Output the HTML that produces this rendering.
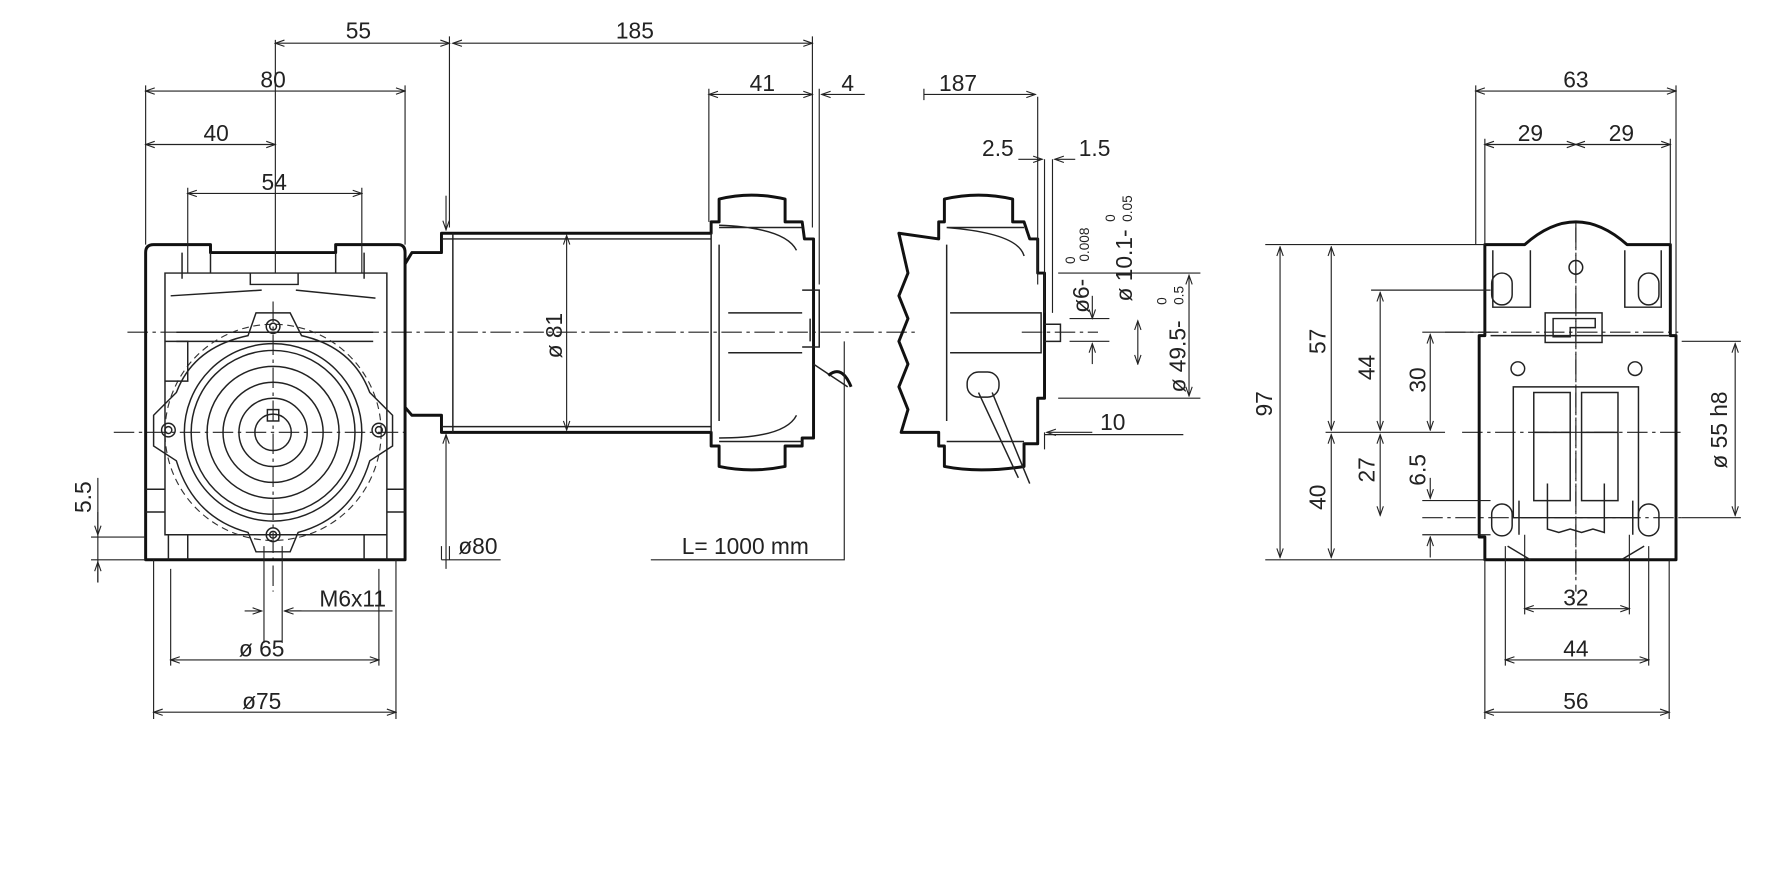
<!DOCTYPE html>
<html><head><meta charset="utf-8"><style>
html,body{margin:0;padding:0;background:#fff;}
svg{display:block;}
text{font-family:"Liberation Sans",sans-serif;font-size:20px;fill:#222;}
.t{stroke:#222;stroke-width:1;fill:none;}
.o{stroke:#111;stroke-width:2.6;fill:none;stroke-linejoin:round;}
.m{stroke:#222;stroke-width:1.3;fill:none;}
.c{stroke:#222;stroke-width:1;fill:none;stroke-dasharray:18 4 3 4;}
.d{stroke:#333;stroke-width:1;fill:none;stroke-dasharray:6 4;}
</style></head><body>
<svg width="1775" height="892" viewBox="0 0 1560 784" preserveAspectRatio="none" xmlns="http://www.w3.org/2000/svg">
<defs>
<marker id="a" viewBox="0 0 10 10" refX="10" refY="5" markerWidth="10" markerHeight="8" orient="auto-start-reverse" markerUnits="userSpaceOnUse"><path d="M0,1.5 L10,5 L0,8.5" fill="none" stroke="#222" stroke-width="1.2"/></marker>
</defs>
<rect width="1560" height="784" fill="#fff"/>

<!-- centerlines -->
<path class="c" d="M112,292 H805 M898,292 H965 M100,380 H360 M240,265 V520 M1385,200 V505 M1270,292 H1475 M1285,380 H1480 M1250,455 H1300 M1250,455 H1480"/>
<path class="c" d="M1385,195 V520"/>

<!-- LEFT VIEW gearbox -->
<path class="o" d="M128,222 Q128,215 135,215 H185 V222 H295 V215 H350 Q356,215 356,222 V492 H128 Z"/>
<path class="m" d="M145,240 H340 V470 H145 Z M155,292 H328 M155,300 H328 M128,430 H145 M340,430 H356 M128,450 H145 M340,450 H356 M160,222 V245 M185,222 V240 M295,222 V240 M320,222 V245 M148,470 V492 M165,470 V492 M320,470 V492 M340,470 V492"/>
<path class="m" d="M220,240 V250 H262 V240 M150,260 L230,255 M260,255 L330,262"/>
<path class="m" d="M225,275 L255,275 L265,295 Q310,305 325,345 L345,365 V392 L325,405 Q310,455 262,468 L255,485 H225 L218,468 Q170,455 155,405 L135,392 V365 L155,345 Q170,305 218,295 Z"/>
<circle class="d" cx="240" cy="380" r="95"/>
<circle class="m" cx="240" cy="380" r="78"/>
<circle class="m" cx="240" cy="380" r="72"/>
<circle class="m" cx="240" cy="380" r="58"/>
<circle class="m" cx="240" cy="380" r="44"/>
<circle class="m" cx="240" cy="380" r="30"/>
<circle class="m" cx="240" cy="380" r="16"/>
<rect class="m" x="235" y="360" width="10" height="10"/>
<circle class="m" cx="240" cy="287" r="6"/><circle class="m" cx="240" cy="287" r="3"/>
<circle class="m" cx="148" cy="378" r="6"/><circle class="m" cx="148" cy="378" r="3"/>
<circle class="m" cx="333" cy="378" r="6"/><circle class="m" cx="333" cy="378" r="3"/>
<circle class="m" cx="240" cy="470" r="6"/><circle class="m" cx="240" cy="470" r="3"/>
<path class="m" d="M145,300 H165 V335 H145"/>

<!-- MOTOR -->
<path class="o" d="M356,232 L362,222 H388 V205 H625 V195 H632 V175 Q660,168 690,175 V195 H705 L707,210 H715 V385 H705 V392 H690 V410 Q660,416 632,410 V392 H625 V380 H388 V365 H362 L356,358"/>
<path class="m" d="M398,205 V380 M388,210 H625 M388,375 H625 M625,205 V380 M632,215 V370 M632,200 H705 M632,388 H705 M640,275 H705 M640,310 H705 M632,198 Q690,200 700,220 M632,385 Q690,385 700,365 M705,255 H720 V305 H705 M712,280 V300 M715,320 L730,330 L745,340"/>
<path class="o" d="M728,330 Q740,320 748,340" />

<!-- MIDDLE partial view -->
<path class="o" d="M790,205 L825,210 V195 H830 V175 Q860,168 890,175 V195 H900 L905,210 H912 V240 H918 V350 H912 V390 L900,390 V410 Q860,416 830,410 V392 H825 V380 L792,380 L798,360 L790,340 L798,320 L790,300 L798,280 L790,260 L798,240 Z"/>
<path class="m" d="M832,215 V370 M832,200 H900 M832,388 H900 M832,200 Q895,205 900,225 M835,275 H905 M835,310 H905 M905,275 H915 V310 H905 M918,285 H932 V300 H918"/>
<rect class="m" x="850" y="327" width="28" height="22" rx="10"/>
<path class="m" d="M860,345 L895,420 M872,345 L905,425"/>
<path class="t" d="M912,85 V250 M918,140 V275 M925,140 V275 M918,395 V380 M918,382 H1040"/>

<!-- RIGHT VIEW -->
<path class="o" d="M1305,215 H1340 Q1385,175 1430,215 H1468 V295 H1473 V492 H1305 V472 H1300 V295 H1305 Z"/>
<path class="m" d="M1312,220 V270 H1345 V220 M1428,220 V270 H1460 V220 M1310,295 H1468 M1330,340 H1440 V455 H1330 Z M1348,345 H1380 V440 H1348 Z M1390,345 H1422 V440 H1390 Z M1348,380 H1380 M1390,380 H1422 M1335,440 V470 M1435,440 V470 M1360,425 V465 L1370,468 L1380,465 L1390,468 L1400,465 L1410,468 V425 M1325,480 L1345,492 M1445,480 L1425,492"/>
<rect class="m" x="1358" y="275" width="50" height="26"/>
<path class="m" d="M1365,280 H1402 V288 H1380 V296 H1365 Z"/>
<circle class="m" cx="1385" cy="235" r="6"/>
<rect class="m" x="1311" y="240" width="18" height="28" rx="9"/>
<rect class="m" x="1440" y="240" width="18" height="28" rx="9"/>
<rect class="m" x="1311" y="443" width="18" height="28" rx="9"/>
<rect class="m" x="1440" y="443" width="18" height="28" rx="9"/>
<circle class="m" cx="1334" cy="324" r="6"/>
<circle class="m" cx="1437" cy="324" r="6"/>

<!-- extension lines -->
<path class="t" d="M128,75 V215 M356,75 V215 M242,35 V240 M165,165 V240 M318,165 V240 M395,32 V200 M714,32 V200 M623,78 V195 M720,78 V250 M812,78 V88 M135,492 V632 M348,492 V632 M150,500 V585 M333,500 V585 M232,480 V565 M248,480 V565 M80,492 H128 M80,472 H128 M1297,75 V215 M1473,75 V295 M1305,122 V215 M1468,122 V215 M1112,215 H1305 M1112,492 H1305 M1165,380 H1270 M1205,255 H1310 M1250,292 H1310 M1250,440 H1310 M1250,470 H1310 M1478,300 H1530 M1478,455 H1530 M1305,492 V632 M1467,492 V632 M1323,480 V585 M1449,480 V585 M1340,470 V540 M1432,470 V540 M930,240 H1055 M930,350 H1055 M940,280 H975 M940,300 H975 M395,480 V492"/>
<path class="t" d="M388,480 V492 M388,492 H440 M572,492 H742 V300"/>

<!-- dimension lines -->
<g class="t" marker-start="url(#a)" marker-end="url(#a)">
<path d="M242,38 H395"/><path d="M398,38 H714"/>
<path d="M128,80 H356"/><path d="M128,127 H242"/><path d="M165,170 H318"/>
<path d="M623,83 H714"/>
<path d="M1297,80 H1473"/><path d="M1305,127 H1385"/><path d="M1385,127 H1468"/>
<path d="M1340,535 H1432"/><path d="M1323,580 H1449"/><path d="M1305,626 H1467"/>
<path d="M150,580 H333"/><path d="M135,626 H348"/>
<path d="M498,207 V378"/>
<path d="M1125,217 V490"/><path d="M1170,217 V378"/><path d="M1170,382 V490"/>
<path d="M1213,257 V378"/><path d="M1213,382 V453"/><path d="M1257,294 V378"/>
<path d="M1525,302 V453"/><path d="M1045,242 V348"/><path d="M1000,282 V320"/>
</g>
<g class="t" marker-end="url(#a)">
<path d="M760,83 H722"/><path d="M812,83 H910"/>
<path d="M895,140 H916"/><path d="M945,140 H927"/>
<path d="M960,380 H920"/>
<path d="M1257,420 V438"/><path d="M1257,490 V472"/>
<path d="M86,450 V470"/><path d="M86,512 V494"/>
<path d="M215,537 H230"/><path d="M265,537 H250"/>
<path d="M960,260 V280"/><path d="M960,320 V302"/>
<path d="M392,172 V202"/><path d="M392,500 V382"/>
</g>
<path class="t" d="M255,537 H345 M86,420 V512"/>

<!-- labels -->
<text x="315" y="34" text-anchor="middle">55</text>
<text x="558" y="34" text-anchor="middle">185</text>
<text x="240" y="77" text-anchor="middle">80</text>
<text x="190" y="124" text-anchor="middle">40</text>
<text x="241" y="167" text-anchor="middle">54</text>
<text x="670" y="80" text-anchor="middle">41</text>
<text x="745" y="80" text-anchor="middle">4</text>
<text x="842" y="80" text-anchor="middle">187</text>
<text x="877" y="137" text-anchor="middle">2.5</text>
<text x="962" y="137" text-anchor="middle">1.5</text>
<text x="1385" y="77" text-anchor="middle">63</text>
<text x="1345" y="124" text-anchor="middle">29</text>
<text x="1425" y="124" text-anchor="middle">29</text>
<text x="1385" y="532" text-anchor="middle">32</text>
<text x="1385" y="577" text-anchor="middle">44</text>
<text x="1385" y="623" text-anchor="middle">56</text>
<text x="230" y="577" text-anchor="middle">ø 65</text>
<text x="230" y="623" text-anchor="middle">ø75</text>
<text x="310" y="533" text-anchor="middle">M6x11</text>
<text x="420" y="487" text-anchor="middle">ø80</text>
<text x="655" y="487" text-anchor="middle">L= 1000 mm</text>
<text x="978" y="378" text-anchor="middle">10</text>
<text transform="translate(494,295) rotate(-90)" text-anchor="middle">ø 81</text>
<text transform="translate(80,437) rotate(-90)" text-anchor="middle">5.5</text>
<text transform="translate(1118,355) rotate(-90)" text-anchor="middle">97</text>
<text transform="translate(1165,300) rotate(-90)" text-anchor="middle">57</text>
<text transform="translate(1165,437) rotate(-90)" text-anchor="middle">40</text>
<text transform="translate(1208,323) rotate(-90)" text-anchor="middle">44</text>
<text transform="translate(1208,413) rotate(-90)" text-anchor="middle">27</text>
<text transform="translate(1253,334) rotate(-90)" text-anchor="middle">30</text>
<text transform="translate(1253,413) rotate(-90)" text-anchor="middle">6.5</text>
<text transform="translate(1518,378) rotate(-90)" text-anchor="middle">ø 55 h8</text>
<text transform="translate(957,275) rotate(-90)">ø6-</text>
<text transform="translate(945,232) rotate(-90)" style="font-size:12px">0</text>
<text transform="translate(957,230) rotate(-90)" style="font-size:12px">0.008</text>
<text transform="translate(995,265) rotate(-90)">ø 10.1-</text>
<text transform="translate(980,195) rotate(-90)" style="font-size:12px">0</text>
<text transform="translate(995,195) rotate(-90)" style="font-size:12px">0.05</text>
<text transform="translate(1042,345) rotate(-90)">ø 49.5-</text>
<text transform="translate(1025,268) rotate(-90)" style="font-size:12px">0</text>
<text transform="translate(1040,268) rotate(-90)" style="font-size:12px">0.5</text>
</svg>
</body></html>
